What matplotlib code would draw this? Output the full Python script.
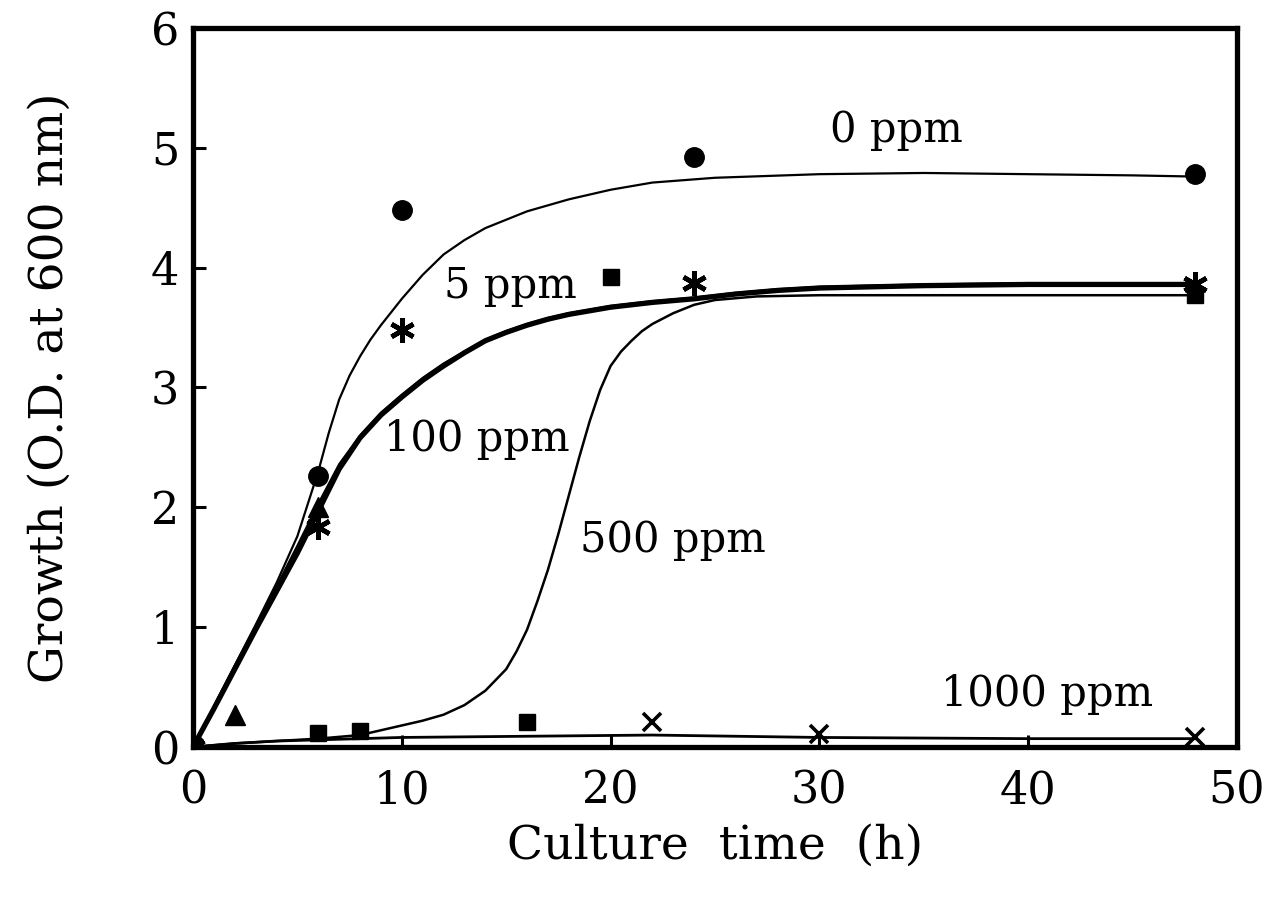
import matplotlib
matplotlib.use("Agg")
import matplotlib.pyplot as plt

# ---- data ----
# fitted curves
t_c0 = [0, 1, 2, 3, 4, 5, 6, 6.5, 7, 7.5, 8, 8.5, 9, 9.5, 10, 11, 12, 13, 14, 16, 18, 20, 22, 25, 30, 35, 40, 45, 48]
y_c0 = [0, 0.34, 0.68, 1.02, 1.37, 1.76, 2.30, 2.62, 2.90, 3.10, 3.26, 3.40, 3.52, 3.63, 3.74, 3.94, 4.11, 4.23, 4.33, 4.47, 4.57, 4.65, 4.71, 4.75, 4.78, 4.79, 4.78, 4.77, 4.76]

t_c5 = [0, 1, 2, 3, 4, 5, 6, 7, 8, 9, 10, 11, 12, 13, 14, 15, 16, 17, 18, 20, 22, 24, 26, 28, 30, 35, 40, 45, 48]
y_c5 = [0, 0.34, 0.68, 1.01, 1.34, 1.68, 2.03, 2.36, 2.60, 2.79, 2.94, 3.08, 3.20, 3.30, 3.40, 3.47, 3.53, 3.58, 3.62, 3.68, 3.72, 3.75, 3.79, 3.82, 3.84, 3.86, 3.87, 3.87, 3.87]

t_c100 = [0, 1, 2, 3, 4, 5, 6, 7, 8, 9, 10, 11, 12, 13, 14, 15, 16, 17, 18, 20, 22, 24, 26, 28, 30, 35, 40, 45, 48]
y_c100 = [0, 0.32, 0.65, 0.98, 1.30, 1.62, 1.97, 2.32, 2.58, 2.77, 2.92, 3.06, 3.18, 3.29, 3.39, 3.46, 3.52, 3.57, 3.61, 3.67, 3.71, 3.74, 3.78, 3.81, 3.83, 3.85, 3.86, 3.86, 3.86]

t_c500 = [0, 2, 4, 6, 8, 10, 11, 12, 13, 14, 15, 15.5, 16, 16.5, 17, 17.5, 18, 18.5, 19, 19.5, 20, 20.5, 21, 21.5, 22, 23, 24, 25, 27, 30, 35, 40, 45, 48]
y_c500 = [0, 0.03, 0.05, 0.07, 0.10, 0.18, 0.22, 0.27, 0.35, 0.47, 0.65, 0.80, 0.98, 1.22, 1.48, 1.78, 2.10, 2.42, 2.72, 2.98, 3.18, 3.30, 3.39, 3.47, 3.53, 3.62, 3.69, 3.73, 3.76, 3.77, 3.77, 3.77, 3.77, 3.77]

t_c1000 = [0, 2, 4, 6, 8, 10, 16, 22, 30, 40, 48]
y_c1000 = [0, 0.03, 0.05, 0.06, 0.07, 0.08, 0.09, 0.10, 0.08, 0.07, 0.07]

# measured points
t_p0 = [0, 6, 10, 24, 48]
y_p0 = [0, 2.26, 4.48, 4.92, 4.78]
t_p5 = [0, 6, 10, 24, 48]
y_p5 = [0, 1.84, 3.48, 3.87, 3.86]
t_p100 = [0, 2, 6]
y_p100 = [0, 0.27, 2.0]
t_p500 = [0, 6, 8, 16, 20, 48]
y_p500 = [0, 0.12, 0.13, 0.21, 3.92, 3.77]
t_p1000 = [0, 22, 30, 48]
y_p1000 = [0, 0.21, 0.11, 0.08]

labels = ["0 ppm", "5 ppm", "100 ppm", "500 ppm", "1000 ppm"]
label_x = [33.7, 15.2, 13.6, 23.0, 40.9]
label_y = [5.15, 3.85, 2.57, 1.73, 0.44]

x_ticks = [0, 10, 20, 30, 40, 50]
y_ticks = [0, 1, 2, 3, 4, 5, 6]

# ---- figure ----
plt.rcParams['font.family'] = ['DejaVu Serif']
fig = plt.figure(figsize=(12.8, 9.02), dpi=100)
ax = fig.add_axes([0.1508, 0.1718, 0.8156, 0.7972])

k = 'black'
ax.plot(t_c0, y_c0, color=k, lw=1.6, zorder=3)
ax.plot(t_c5, y_c5, color=k, lw=1.6, zorder=3)
ax.plot(t_c100, y_c100, color=k, lw=3.8, zorder=3, solid_capstyle='round')
ax.plot(t_c500, y_c500, color=k, lw=1.8, zorder=3)
ax.plot(t_c1000, y_c1000, color=k, lw=2.0, zorder=3)

ax.plot(t_p0, y_p0, 'o', color=k, ms=14, zorder=4)
ax.plot(t_p5, y_p5, linestyle='none', marker=(6, 2, 0), color=k, ms=18, mew=3.4, zorder=4)
ax.plot(t_p100, y_p100, '^', color=k, ms=15, zorder=4)
ax.plot(t_p500, y_p500, 's', color=k, ms=11, zorder=4)
ax.plot(t_p1000, y_p1000, 'x', color=k, ms=13, mew=2.6, zorder=4)

for s, xx, yy in zip(labels, label_x, label_y):
    ax.text(xx, yy, s, ha='center', va='center', fontsize=30, color=k)

ax.set_xlim(0, 50)
ax.set_ylim(0, 6)
ax.set_xticks(x_ticks)
ax.set_yticks(y_ticks)
ax.set_xticklabels([str(v) for v in x_ticks])
ax.set_yticklabels([str(v) for v in y_ticks])
ax.tick_params(axis='both', direction='in', length=9, width=2.2, labelsize=32, colors=k)
ax.tick_params(axis='x', pad=16)
ax.tick_params(axis='y', pad=10)

for sp in ax.spines.values():
    sp.set_linewidth(3.8)
    sp.set_color(k)

ax.set_xlabel("Culture  time  (h)", fontsize=34, labelpad=8)
ax.set_ylabel("Growth (O.D. at 600 nm)", fontsize=34, labelpad=56)

fig.savefig("out.png", dpi=100)
